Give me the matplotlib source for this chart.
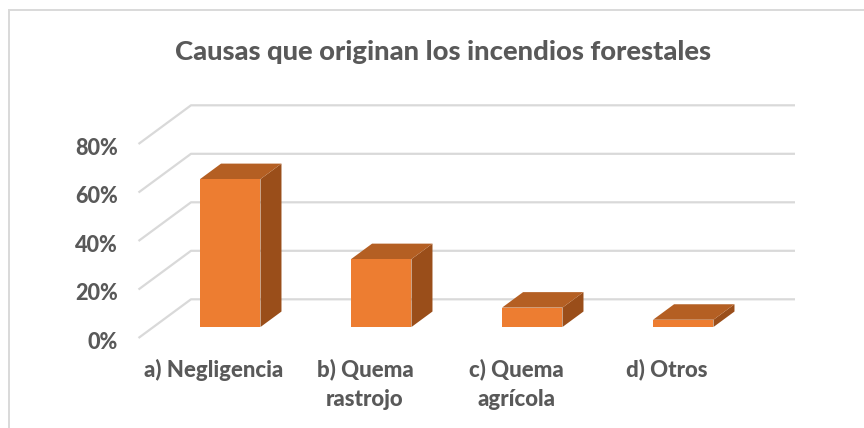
import matplotlib
matplotlib.use("Agg")
import matplotlib.pyplot as plt
from matplotlib.patches import Polygon, Rectangle
from matplotlib.transforms import ScaledTranslation

categories = ['a) Negligencia', 'b) Quema\nrastrojo', 'c) Quema\nagrícola', 'd) Otros']
values = [61, 28, 8, 3]
y_ticks = [0, 20, 40, 60, 80]

TEXT = '#595959'
GRID = '#D9D9D9'
FRONT = '#ED7D31'
TOP = '#B45F23'
SIDE = '#9A4E1A'

W, H = 864, 428
fig = plt.figure(figsize=(W / 100, H / 100), dpi=100)
plt.rcParams['font.family'] = ['Lato', 'DejaVu Sans']

# front plane of the fake 3d box, in pixels
left, right, bottom, top = 138.5, 742.5, 338, 144
ax = fig.add_axes([left / W, 1 - bottom / H, (right - left) / W, (bottom - top) / H])
ax.set_xlim(-0.5, 3.5)
ax.set_ylim(0, 80)
ax.patch.set_alpha(0)
for s in ax.spines.values():
    s.set_visible(False)

# oblique depth of the whole floor, in data units
dx = 52.5 / 151
dy = 38.7 / 194 * 80
bar_w = 0.4
bar_start_x = 0.31
bar_start_y = 0.284
bar_depth = 0.4

for y in y_ticks:
    ax.plot([-0.5, -0.5 + dx, 3.5 + dx], [y, y + dy, y + dy], color=GRID, lw=1.6,
            clip_on=False, zorder=1, solid_capstyle='butt')

for i, v in enumerate(values):
    x0 = i - bar_w / 2 + bar_start_x * dx
    x1 = x0 + bar_w
    y0 = bar_start_y * dy
    ox, oy = bar_depth * dx, bar_depth * dy
    ax.add_patch(Polygon([(x1, y0), (x1 + ox, y0 + oy), (x1 + ox, y0 + v + oy), (x1, y0 + v)],
                         fc=SIDE, ec='none', clip_on=False, zorder=3))
    ax.add_patch(Polygon([(x0, y0 + v), (x0 + ox, y0 + v + oy), (x1 + ox, y0 + v + oy), (x1, y0 + v)],
                         fc=TOP, ec='none', clip_on=False, zorder=3))
    ax.bar(x0, v, bar_w, bottom=y0, align='edge', color=FRONT, zorder=4, clip_on=False)

ax.set_xticks(range(len(categories)))
ax.set_xticklabels(categories, fontsize=16, fontweight=900, color=TEXT, linespacing=1.5)
ax.set_yticks(y_ticks)
ax.set_yticklabels([f'{t}%' for t in y_ticks], fontsize=15.6, fontweight=900, color=TEXT)
ax.tick_params(axis='both', length=0)
ax.tick_params(axis='x', pad=15)
ax.tick_params(axis='y', pad=15)
for lab in ax.get_yticklabels():
    lab.set_transform(lab.get_transform() + ScaledTranslation(0, -1.5 / 72, fig.dpi_scale_trans))

fig.add_artist(Rectangle((8.5 / W, -0.1), 1.2, 1.1 - 9.5 / H, transform=fig.transFigure,
                         fc='none', ec=GRID, lw=1.4))
fig.text(443 / W, 1 - 52 / H, 'Causas que originan los incendios forestales',
         ha='center', va='center', fontsize=19.7, fontweight=900, color=TEXT)

fig.savefig('out.png', dpi=100)
